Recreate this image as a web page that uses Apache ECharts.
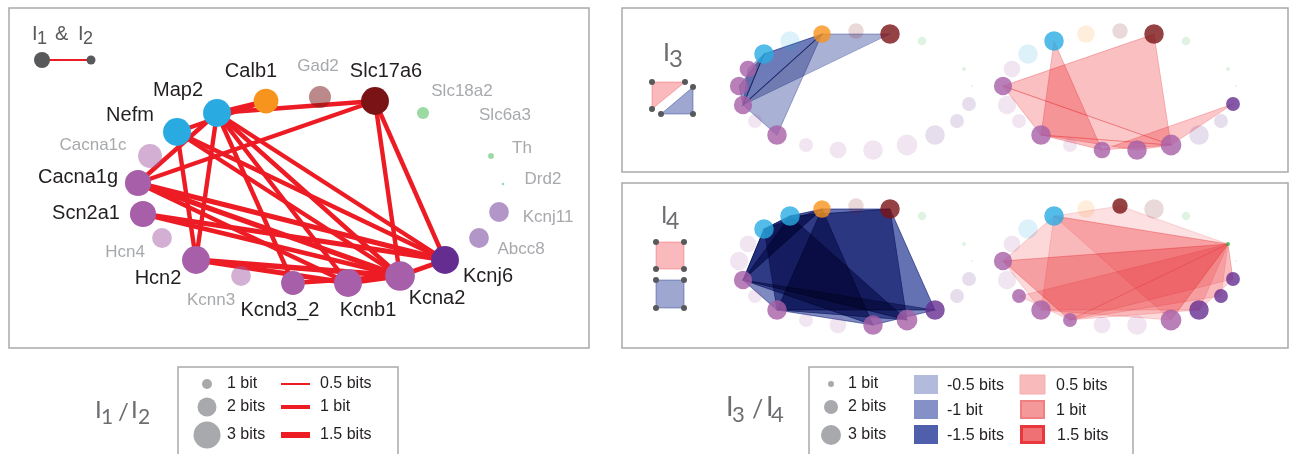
<!DOCTYPE html>
<html>
<head>
<meta charset="utf-8">
<script src="https://cdn.jsdelivr.net/npm/echarts@6/dist/echarts.min.js"></script>
<style>
  html, body { margin: 0; padding: 0; background: #fff; }
  #chart { width: 1290px; height: 454px; }
</style>
</head>
<body>
<div id="chart"></div>
<script>
// genes, in the order they sit around the ring
const genes = ['Cacna1c','Nefm','Map2','Calb1','Gad2','Slc17a6','Slc18a2','Slc6a3','Th','Drd2',
  'Kcnj11','Abcc8','Kcnj6','Kcna2','Kcnb1','Kcnd3_2','Kcnn3','Hcn2','Hcn4','Scn2a1','Cacna1g'];
const geneGroup = ['purple','blue','blue','orange','red','red','green','green','green','green',
  'violet','violet','violet','purple','purple','purple','purple','purple','purple','purple','purple'];
// node entropy (bits)
const geneBits = [2.65,3.1,3.1,2.75,2.45,3.1,1.35,0,0.65,0.3,2.2,2.2,3.1,3.3,3.1,2.65,2.2,3.1,2.2,2.9,2.9];

// I1 & I2 network layout (layout units)
const netX = [141,168,208,257,311,366,414,454,482,494,490,470,436,391,339,284,232,187,153,134,129];
const netY = [148,124,105,93,89,93,105,120,148,176,204,230,252,268,275,275,268,252,230,206,175];
// pairwise links: gene, gene, bits
const pairLinks = [
  ['Map2','Calb1',1.1], ['Map2','Slc17a6',1.1], ['Nefm','Calb1',1.1],
  ['Cacna1g','Map2',1.1], ['Cacna1g','Slc17a6',1.0], ['Cacna1g','Kcnj6',1.3],
  ['Cacna1g','Kcna2',1.3], ['Cacna1g','Kcnb1',1.1], ['Scn2a1','Kcnj6',1.3],
  ['Scn2a1','Kcna2',1.2], ['Hcn2','Nefm',1.1], ['Hcn2','Map2',1.1],
  ['Hcn2','Kcnb1',1.3], ['Hcn2','Kcna2',1.4], ['Map2','Kcnd3_2',1.1],
  ['Map2','Kcnb1',1.1], ['Map2','Kcna2',1.1], ['Map2','Kcnj6',1.1],
  ['Nefm','Kcnj6',1.1], ['Nefm','Kcna2',1.1], ['Slc17a6','Kcna2',1.1],
  ['Slc17a6','Kcnj6',1.1], ['Kcnb1','Kcna2',1.2], ['Kcna2','Kcnj6',1.2],
  ['Kcnd3_2','Kcna2',1.1]
];

// ring layout (layout units) used by the I3 and I4 panels
const ringX = [126,142,168,200,234,268,300,323,342,350,347,335,313,285,251,216,184,155,133,121,117];
const ringY = [61,46,33,26,23,26,33,45,61,78,96,113,127,137,142,142,137,127,113,97,78];

// higher-order interactions: genes, bits
const tripletsA = [
  [['Cacna1c','Nefm','Scn2a1'], -0.5],
  [['Scn2a1','Calb1','Slc17a6'], -0.5],
  [['Scn2a1','Hcn2','Calb1'], -0.5],
  [['Cacna1g','Nefm','Scn2a1'], -0.8],
  [['Scn2a1','Nefm','Calb1'], -1.2]
];
const tripletsB = [
  [['Cacna1g','Slc17a6','Kcna2'], 0.45],
  [['Cacna1g','Hcn2','Kcna2'], 0.35],
  [['Map2','Hcn2','Kcnd3_2'], 0.45],
  [['Kcnj11','Kcnd3_2','Kcna2'], 0.35],
  [['Hcn2','Kcnb1','Kcna2'], 0.35]
];
const quadsA = [
  [['Scn2a1','Nefm','Map2','Calb1'], -1.5],
  [['Scn2a1','Map2','Slc17a6','Kcna2'], -1.2],
  [['Scn2a1','Nefm','Calb1','Kcnb1'], -1.2],
  [['Hcn2','Calb1','Slc17a6','Kcnj6'], -1.3],
  [['Scn2a1','Hcn2','Kcnj6','Kcnb1'], -1],
  [['Nefm','Map2','Kcna2','Hcn2'], -1.2]
];
const quadsB = [
  [['Cacna1g','Map2','Th','Kcnn3'], 0.15],
  [['Map2','Gad2','Th','Kcna2'], 0.05],
  [['Cacna1g','Th','Kcna2','Hcn2'], 0.12],
  [['Map2','Th','Kcnj6','Hcn2'], 0.12],
  [['Hcn4','Th','Abcc8','Kcnn3'], 0.12],
  [['Kcnn3','Th','Kcnj11','Kcnj6'], 0.15],
  [['Cacna1g','Th','Kcnj11','Kcnn3'], 0.08]
];

// ---------- styling ----------
const FONT = "'Liberation Sans', Arial, sans-serif";
const THIN = "Lato, 'Liberation Sans', sans-serif";
const groupRGB = { blue:[41,171,226], orange:[247,148,29], red:[122,19,21], green:[58,181,74],
  purple:[166,95,168], violet:[102,45,145] };
const labelPlace = {
  Cacna1c:[-57,-11], Nefm:[-47,-17], Map2:[-39,-23], Calb1:[-15,-30], Gad2:[-2,-31],
  Slc17a6:[11,-30], Slc18a2:[39,-22], Slc6a3:[42,-13], Th:[31,-8], Drd2:[40,-5],
  Kcnj11:[49,5], Abcc8:[42,11], Kcnj6:[43,16], Kcna2:[37,22], Kcnb1:[20,27],
  Kcnd3_2:[-13,27], Kcnn3:[-30,24], Hcn2:[-38,18], Hcn4:[-37,14], Scn2a1:[-57,-1], Cacna1g:[-60,-6]
};
const RING_SHIFT = 264;

function rgba(g, a) { const c = groupRGB[g]; return 'rgba(' + c[0] + ',' + c[1] + ',' + c[2] + ',' + a + ')'; }
function hyperColor(bits) {
  const b = Math.abs(bits);
  return bits < 0 ? 'rgba(40,60,150,' + Math.min(0.85, 0.2 + 0.4 * b) + ')'
                  : 'rgba(237,28,36,' + Math.min(0.8, 0.12 + 0.36 * b) + ')';
}

const activePair = new Set();
pairLinks.forEach(l => { activePair.add(l[0]); activePair.add(l[1]); });

const netNodes = genes.map((g, i) => {
  const on = activePair.has(g);
  return {
    name: g,
    value: [netX[i], netY[i]],
    symbolSize: geneBits[i] * 9,
    itemStyle: { color: rgba(geneGroup[i], on ? 1 : 0.5) },
    label: {
      show: true, position: 'inside', offset: labelPlace[g],
      color: on ? '#231F20' : '#A7A9AC', fontSize: on ? 20 : 17, fontFamily: FONT
    }
  };
});
const netLinks = pairLinks.map(l => ({ source: l[0], target: l[1], lineStyle: { width: l[2] * 4 } }));

function ringNodes(list, grid, shift) {
  const on = new Set();
  list.forEach(h => h[0].forEach(g => on.add(g)));
  return {
    type: 'scatter', xAxisIndex: grid, yAxisIndex: grid, z: 5, silent: true,
    data: genes.map((g, i) => ({
      value: [ringX[i] + shift, ringY[i]],
      symbolSize: geneBits[i] * 6.3,
      itemStyle: { color: rgba(geneGroup[i], on.has(g) ? 1 : 0.2) }
    }))
  };
}

function hyperEdges(list, grid, shift) {
  return {
    type: 'custom', coordinateSystem: 'cartesian2d', xAxisIndex: grid, yAxisIndex: grid,
    z: 3, silent: true, blendMode: 'multiply',
    data: list.map(() => [0, 0]),
    renderItem: function (params, api) {
      const h = list[params.dataIndex];
      const pts = h[0].map(g => { const i = genes.indexOf(g); return api.coord([ringX[i] + shift, ringY[i]]); });
      const c = [0, 0];
      pts.forEach(p => { c[0] += p[0] / pts.length; c[1] += p[1] / pts.length; });
      pts.sort((p, q) => Math.atan2(p[1] - c[1], p[0] - c[0]) - Math.atan2(q[1] - c[1], q[0] - c[0]));
      const col = hyperColor(h[1]);
      return { type: 'polygon', shape: { points: pts },
        style: { fill: col, stroke: col, lineWidth: 0.8 } };
    }
  };
}

// ---------- decorations: frames, titles, legends ----------
function txt(x, y, s, size, color, family, align) {
  return { type: 'text', silent: true, z: 10,
    style: { text: s, x: x, y: y, font: size + 'px ' + (family || FONT), fill: color,
      align: align || 'left', verticalAlign: 'middle', textAlign: align || 'left', textVerticalAlign: 'middle' } };
}
function frame(x, y, w, h) {
  return { type: 'rect', silent: true, z: 0, shape: { x: x, y: y, width: w, height: h },
    style: { fill: 'none', stroke: '#A7A9AC', lineWidth: 1.5 } };
}
function dot(x, y, r, color) {
  return { type: 'circle', silent: true, z: 10, shape: { cx: x, cy: y, r: r }, style: { fill: color } };
}
const DARK = '#58595B';
const graphics = [
  frame(9, 8, 580, 340), frame(622, 8, 666, 164), frame(622, 183, 666, 165),
  // I1 & I2 corner legend
  txt(32, 34, 'I', 20, DARK), txt(37, 39.5, '1', 18, DARK), txt(55, 34, '&', 20, DARK),
  txt(78, 34, 'I', 20, DARK), txt(83, 39.5, '2', 18, DARK),
  { type: 'line', silent: true, z: 10, shape: { x1: 42, y1: 60, x2: 91, y2: 60 }, style: { stroke: '#ED1C24', lineWidth: 2 } },
  dot(42, 60, 8, DARK), dot(91, 60, 4.5, DARK),
  // I3 corner legend
  txt(663, 53, 'I', 25, '#6D6E71', THIN), txt(669, 59.5, '3', 24, '#6D6E71', THIN),
  { type: 'polygon', silent: true, z: 9, shape: { points: [[652, 82], [685, 82], [652, 109]] },
    style: { fill: 'rgba(237,28,36,0.3)', stroke: 'rgba(237,28,36,0.3)', lineWidth: 1 } },
  { type: 'polygon', silent: true, z: 9, shape: { points: [[693, 87], [693, 114], [661, 114]] },
    style: { fill: 'rgba(40,60,150,0.45)', stroke: 'rgba(40,60,150,0.45)', lineWidth: 1 } },
  dot(652, 82, 3, DARK), dot(685, 82, 3, DARK), dot(652, 109, 3, DARK),
  dot(693, 87, 3, DARK), dot(693, 114, 3, DARK), dot(661, 114, 3, DARK),
  // I4 corner legend
  txt(661, 216, 'I', 23, '#6D6E71', THIN), txt(666, 222, '4', 23, '#6D6E71', THIN),
  { type: 'rect', silent: true, z: 9, shape: { x: 656, y: 242, width: 28, height: 27 },
    style: { fill: 'rgba(237,28,36,0.3)', stroke: 'rgba(237,28,36,0.3)', lineWidth: 1 } },
  { type: 'rect', silent: true, z: 9, shape: { x: 656, y: 280, width: 28, height: 28 },
    style: { fill: 'rgba(40,60,150,0.45)', stroke: 'rgba(40,60,150,0.45)', lineWidth: 1 } },
  dot(656, 242, 3, DARK), dot(684, 242, 3, DARK), dot(656, 269, 3, DARK), dot(684, 269, 3, DARK),
  dot(656, 280, 3, DARK), dot(684, 280, 3, DARK), dot(656, 308, 3, DARK), dot(684, 308, 3, DARK),
  // bottom-left legend
  txt(95, 410, 'I', 24, '#6D6E71', THIN), txt(101, 417, '1', 21, '#6D6E71', THIN),
  txt(118, 412, '/', 24, '#6D6E71', THIN),
  txt(131, 410, 'I', 24, '#6D6E71', THIN), txt(138, 417, '2', 21, '#6D6E71', THIN),
  frame(178, 367, 220, 100),
  dot(207, 384, 5, '#A7A9AC'), dot(207, 407, 9.5, '#A7A9AC'), dot(207, 435, 13.5, '#A7A9AC'),
  txt(227, 384, '1 bit', 16, '#231F20'), txt(227, 407, '2 bits', 16, '#231F20'), txt(227, 435, '3 bits', 16, '#231F20'),
  { type: 'line', silent: true, z: 10, shape: { x1: 281, y1: 384, x2: 310, y2: 384 }, style: { stroke: '#ED1C24', lineWidth: 2 } },
  { type: 'line', silent: true, z: 10, shape: { x1: 281, y1: 407, x2: 310, y2: 407 }, style: { stroke: '#ED1C24', lineWidth: 4 } },
  { type: 'line', silent: true, z: 10, shape: { x1: 281, y1: 435, x2: 310, y2: 435 }, style: { stroke: '#ED1C24', lineWidth: 6 } },
  txt(320, 384, '0.5 bits', 16, '#231F20'), txt(320, 407, '1 bit', 16, '#231F20'), txt(320, 435, '1.5 bits', 16, '#231F20'),
  // bottom-right legend
  txt(726, 407, 'I', 27, '#6D6E71', THIN), txt(732, 415, '3', 22, '#6D6E71', THIN),
  txt(752, 410, '/', 25, '#6D6E71', THIN),
  txt(766, 407, 'I', 27, '#6D6E71', THIN), txt(771, 415, '4', 22, '#6D6E71', THIN),
  frame(809, 367, 324, 100),
  dot(831, 384, 3, '#A7A9AC'), dot(831, 407, 7, '#A7A9AC'), dot(831, 435, 10, '#A7A9AC'),
  txt(848, 384, '1 bit', 16, '#231F20'), txt(848, 407, '2 bits', 16, '#231F20'), txt(848, 435, '3 bits', 16, '#231F20'),
  { type: 'rect', silent: true, z: 10, shape: { x: 914, y: 375, width: 24, height: 19 }, style: { fill: '#B3BBDD' } },
  { type: 'rect', silent: true, z: 10, shape: { x: 914, y: 400, width: 24, height: 19 }, style: { fill: '#8590C6' } },
  { type: 'rect', silent: true, z: 10, shape: { x: 914, y: 425, width: 24, height: 19 }, style: { fill: '#4F5FAC' } },
  txt(947, 386, '-0.5 bits', 16, '#231F20'), txt(947, 411, '-1 bit', 16, '#231F20'), txt(947, 436, '-1.5 bits', 16, '#231F20'),
  { type: 'rect', silent: true, z: 10, shape: { x: 1020, y: 375, width: 25, height: 19 }, style: { fill: '#F8BABB', stroke: '#F6AEAF', lineWidth: 1 } },
  { type: 'rect', silent: true, z: 10, shape: { x: 1021, y: 401, width: 23, height: 17 }, style: { fill: '#F59899', stroke: '#F07F81', lineWidth: 2 } },
  { type: 'rect', silent: true, z: 10, shape: { x: 1021.5, y: 426.5, width: 22, height: 16 }, style: { fill: '#F07173', stroke: '#E8383B', lineWidth: 3 } },
  txt(1056, 386, '0.5 bits', 16, '#231F20'), txt(1056, 411, '1 bit', 16, '#231F20'), txt(1057, 436, '1.5 bits', 16, '#231F20')
];

const chart = echarts.init(document.getElementById('chart'));
chart.setOption({
  backgroundColor: '#ffffff',
  animation: false,
  grid: [
    { left: 9, top: 8, width: 580, height: 340 },
    { left: 622, top: 8, width: 666, height: 164 },
    { left: 622, top: 183, width: 666, height: 165 }
  ],
  xAxis: [
    { type: 'value', gridIndex: 0, min: 0, max: 580, show: false },
    { type: 'value', gridIndex: 1, min: 0, max: 666, show: false },
    { type: 'value', gridIndex: 2, min: 0, max: 666, show: false }
  ],
  yAxis: [
    { type: 'value', gridIndex: 0, min: 0, max: 340, inverse: true, show: false },
    { type: 'value', gridIndex: 1, min: 0, max: 164, inverse: true, show: false },
    { type: 'value', gridIndex: 2, min: 0, max: 165, inverse: true, show: false }
  ],
  graphic: graphics,
  series: [
    {
      type: 'graph', layout: 'none', coordinateSystem: 'cartesian2d', xAxisIndex: 0, yAxisIndex: 0,
      silent: true, z: 4,
      data: netNodes, links: netLinks,
      lineStyle: { color: '#ED1C24', opacity: 1 }
    },
    hyperEdges(tripletsA, 1, 0), ringNodes(tripletsA, 1, 0),
    hyperEdges(tripletsB, 1, RING_SHIFT), ringNodes(tripletsB, 1, RING_SHIFT),
    hyperEdges(quadsA, 2, 0), ringNodes(quadsA, 2, 0),
    hyperEdges(quadsB, 2, RING_SHIFT), ringNodes(quadsB, 2, RING_SHIFT)
  ]
});
</script>
</body>
</html>
